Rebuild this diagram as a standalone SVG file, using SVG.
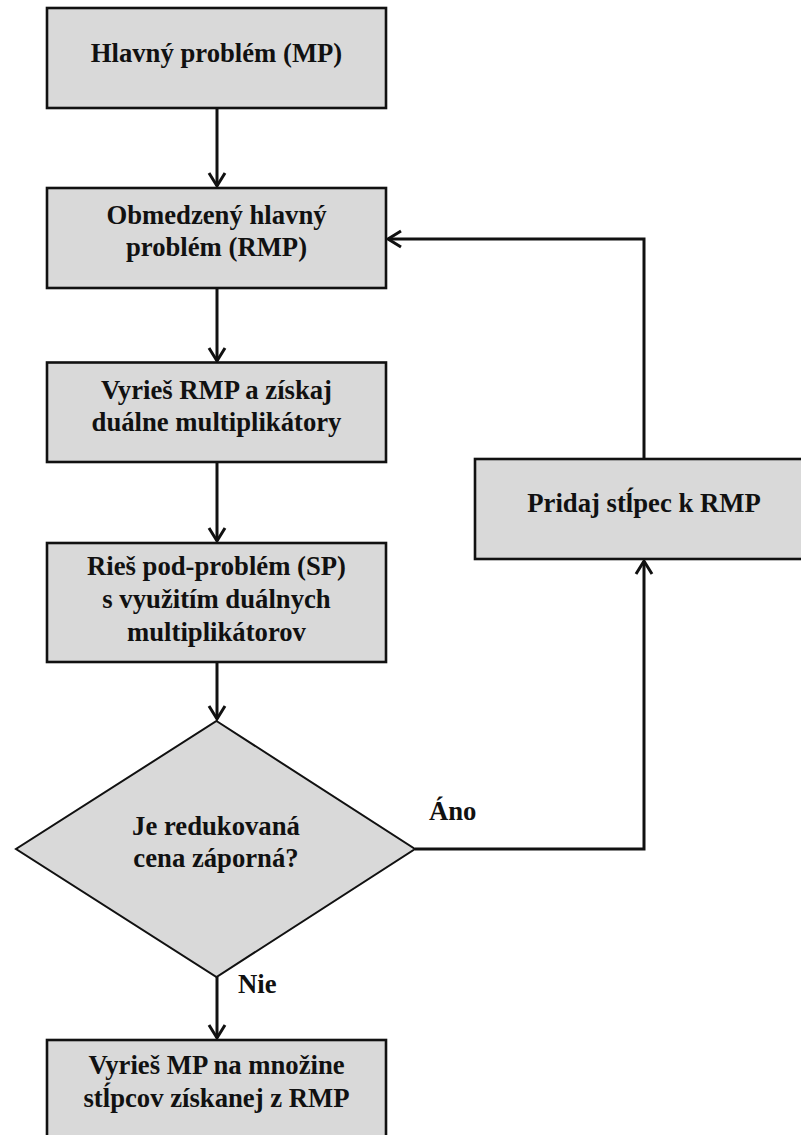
<svg xmlns="http://www.w3.org/2000/svg" width="801" height="1135" viewBox="0 0 801 1135">
  <style>
    .box { fill: #d9d9d9; stroke: #111; stroke-width: 2.6; }
    .dec { fill: #d9d9d9; stroke: #111; stroke-width: 2; }
    .lbl { font-family: "Liberation Serif", "Times New Roman", serif; font-weight: bold; font-size: 26.7px; fill: #111; text-anchor: middle; }
    .tag { font-family: "Liberation Serif", "Times New Roman", serif; font-weight: bold; font-size: 26.7px; fill: #111; }
    .edge { fill: none; stroke: #111; stroke-width: 3; marker-end: url(#arrow); }
  </style>
  <defs>
    <marker id="arrow" markerUnits="userSpaceOnUse" viewBox="-16 -10 20 20" refX="0" refY="0" markerWidth="20" markerHeight="20" orient="auto">
      <path d="M-13,-8 L0,0 L-13,8" fill="none" stroke="#111" stroke-width="3"/>
    </marker>
  </defs>
  <rect width="801" height="1135" fill="#fff"/>

  <g id="edges">
    <path class="edge" d="M217,108 V186"/>
    <path class="edge" d="M217,288 V361"/>
    <path class="edge" d="M217,462 V541"/>
    <path class="edge" d="M217,662 V719"/>
    <path class="edge" d="M217,977 V1038"/>
    <path class="edge" d="M415,849 H644 V561"/>
    <path class="edge" d="M644,459 V239 H388"/>
  </g>

  <g id="mp">
    <rect class="box" x="47" y="8" width="339" height="100"/>
    <text class="lbl" x="216.5" y="61.5">Hlavný problém (MP)</text>
  </g>

  <g id="rmp">
    <rect class="box" x="47" y="188" width="339" height="100"/>
    <text class="lbl" x="216.5" y="223.5">Obmedzený hlavný</text>
    <text class="lbl" x="216.5" y="256">problém (RMP)</text>
  </g>

  <g id="solve-rmp">
    <rect class="box" x="47" y="362.5" width="339" height="99.5"/>
    <text class="lbl" x="216.5" y="398.5">Vyrieš RMP a získaj</text>
    <text class="lbl" x="216.5" y="431">duálne multiplikátory</text>
  </g>

  <g id="subproblem">
    <rect class="box" x="47" y="543" width="339" height="119"/>
    <text class="lbl" x="216.5" y="575">Rieš pod-problém (SP)</text>
    <text class="lbl" x="216.5" y="608">s využitím duálnych</text>
    <text class="lbl" x="216.5" y="641">multiplikátorov</text>
  </g>

  <g id="decision">
    <polygon class="dec" points="216.5,721 415,849 216.5,977 16,849"/>
    <text class="lbl" x="216" y="835">Je redukovaná</text>
    <text class="lbl" x="216" y="867">cena záporná?</text>
  </g>

  <g id="add-column">
    <rect class="box" x="475" y="459" width="339" height="100"/>
    <text class="lbl" x="644" y="511.5">Pridaj stĺpec k RMP</text>
  </g>

  <g id="final">
    <rect class="box" x="47" y="1040" width="339" height="100"/>
    <text class="lbl" x="216.5" y="1073.5">Vyrieš MP na množine</text>
    <text class="lbl" x="216.5" y="1106.5">stĺpcov získanej z RMP</text>
  </g>

  <g id="labels">
    <text class="tag" x="429" y="820">Áno</text>
    <text class="tag" x="238" y="993">Nie</text>
  </g>
</svg>
